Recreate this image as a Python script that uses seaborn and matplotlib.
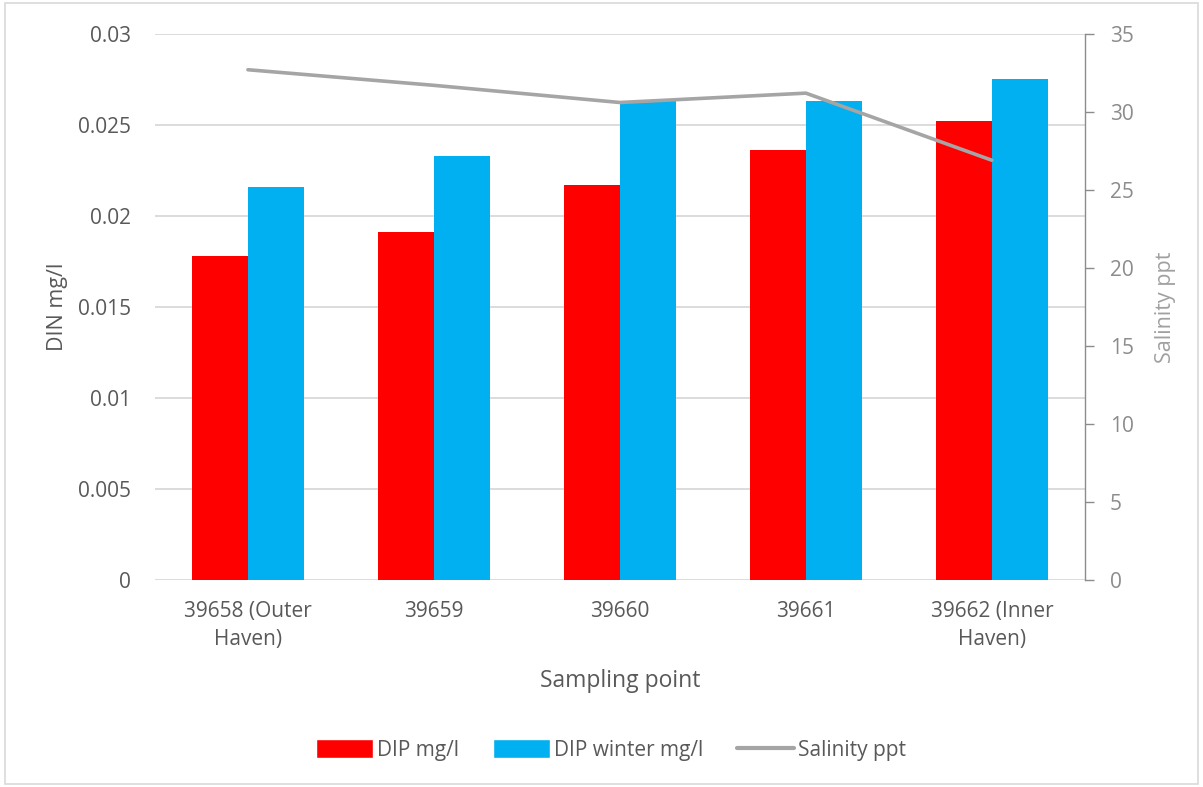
import matplotlib
matplotlib.use("Agg")
import matplotlib.pyplot as plt
import seaborn as sns
import pandas as pd
from matplotlib.patches import Patch, Rectangle
from matplotlib.lines import Line2D

# Sampling points along the haven and measured values
sites = ["39658 (Outer\nHaven)", "39659", "39660", "39661", "39662 (Inner\nHaven)"]
dip = [0.0178, 0.0191, 0.0217, 0.0236, 0.0252]
dip_winter = [0.0216, 0.0233, 0.0263, 0.0263, 0.0275]
salinity = [32.7, 31.7, 30.6, 31.2, 26.9]

series_names = ["DIP mg/l", "DIP winter mg/l"]
line_name = "Salinity ppt"
colors = {"DIP mg/l": "#FF0000", "DIP winter mg/l": "#00B0F0"}
line_color = "#A5A5A5"
text_dark = "#595959"
text_light = "#8C8C8C"

df = pd.DataFrame({
    "site": sites * 2,
    "series": [series_names[0]] * len(sites) + [series_names[1]] * len(sites),
    "value": dip + dip_winter,
})
df_sal = pd.DataFrame({"site": sites, "salinity": salinity})

sns.set_theme(style="white")
plt.rcParams["font.family"] = ["Open Sans", "DejaVu Sans"]

fig = plt.figure(figsize=(12.03, 7.87), dpi=100)
ax = fig.add_axes([0.1288, 0.263, 0.773, 0.694])

sns.barplot(data=df, x="site", y="value", hue="series", palette=colors,
            width=0.6, order=sites, hue_order=series_names, ax=ax,
            legend=False, saturation=1, linewidth=0, zorder=3)

ax.set_ylim(0, 0.03)
ax.set_xlim(-0.5, len(sites) - 0.5)
ax.set_yticks([0, 0.005, 0.01, 0.015, 0.02, 0.025, 0.03])
ax.set_yticklabels(["0", "0.005", "0.01", "0.015", "0.02", "0.025", "0.03"])
ax.yaxis.grid(True, color="#D9D9D9", linewidth=1.3, zorder=0)
ax.set_axisbelow(True)
for s in ax.spines.values():
    s.set_visible(False)
ax.tick_params(axis="y", length=0, pad=17, labelsize=15, colors=text_dark)
ax.tick_params(axis="x", length=0, pad=15, labelsize=15, colors=text_dark)
for lbl in ax.get_xticklabels():
    lbl.set_linespacing(1.45)
ax.set_xlabel("Sampling point", fontsize=16.5, color=text_dark, labelpad=14)
ax.set_ylabel("DIN mg/l", fontsize=15.5, color=text_dark, labelpad=7)

ax2 = ax.twinx()
sns.lineplot(data=df_sal, x="site", y="salinity", color=line_color,
             linewidth=2.6, ax=ax2, sort=False, zorder=4)
ax2.set_ylim(0, 35)
ax2.set_xlim(-0.5, len(sites) - 0.5)
ax2.set_yticks(range(0, 36, 5))
for name, s in ax2.spines.items():
    s.set_visible(name == "right")
ax2.spines["right"].set_color("#8C8C8C")
ax2.spines["right"].set_linewidth(1.0)
ax2.tick_params(axis="y", length=6.5, width=1, color="#8C8C8C", pad=11.5,
                labelsize=15, labelcolor=text_light)
ax2.set_ylabel("Salinity ppt", fontsize=15.5, color="#A0A0A0", labelpad=15)
ax2.set_xlabel("")

handles = [
    Patch(facecolor=colors[series_names[0]], label=series_names[0]),
    Patch(facecolor=colors[series_names[1]], label=series_names[1]),
    Line2D([0], [0], color=line_color, linewidth=3, label=line_name),
]
leg = fig.legend(handles=handles, loc="center", bbox_to_anchor=(0.508, 0.047),
                 ncol=3, frameon=False, fontsize=15, handlelength=2.75,
                 handleheight=1.0, handletextpad=0.2, columnspacing=1.6)
for t in leg.get_texts():
    t.set_color(text_dark)

# Light chart border
fig.patches.append(Rectangle((0.004, 0.004), 0.992, 0.992, transform=fig.transFigure,
                             fill=False, edgecolor="#D9D9D9", linewidth=1.2))

fig.savefig("out.png", dpi=100)
